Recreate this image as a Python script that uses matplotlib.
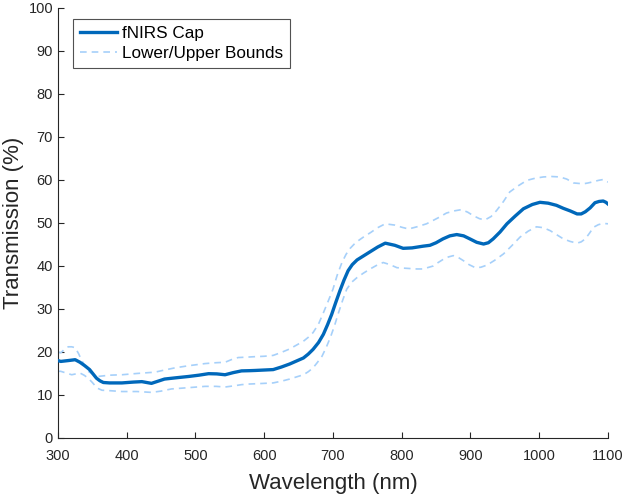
import matplotlib
matplotlib.use("Agg")
import matplotlib.pyplot as plt
import numpy as np

plt.rcParams['font.family'] = ['Liberation Sans', 'DejaVu Sans']

wl_main = [300, 304, 315, 325, 332, 339, 346, 351, 356, 361, 366, 375, 393, 410, 422, 436, 455, 472, 490, 505, 519, 531, 543, 555, 567, 579, 587, 600, 613, 625, 637, 647, 657, 664, 671, 679, 686, 692, 698, 704, 710, 716, 722, 728, 735, 744, 754, 765, 776, 790, 802, 815, 831, 841, 850, 860, 870, 880, 890, 899, 909, 919, 926, 933, 943, 953, 965, 977, 990, 1001, 1013, 1025, 1035, 1045, 1055, 1061, 1067, 1074, 1081, 1087, 1093, 1097, 1100]
t_main = [18.0, 17.8, 18.0, 18.2, 17.6, 16.8, 15.9, 14.9, 13.9, 13.3, 12.9, 12.8, 12.8, 13.0, 13.1, 12.7, 13.7, 14.0, 14.3, 14.6, 14.95, 14.9, 14.7, 15.2, 15.6, 15.65, 15.7, 15.8, 15.9, 16.5, 17.2, 17.9, 18.6, 19.5, 20.6, 22.2, 24.1, 26.3, 28.7, 31.5, 34.2, 36.7, 38.9, 40.3, 41.4, 42.3, 43.3, 44.4, 45.3, 44.8, 44.1, 44.2, 44.6, 44.8, 45.4, 46.3, 47.0, 47.3, 47.0, 46.3, 45.5, 45.1, 45.4, 46.3, 47.9, 49.8, 51.6, 53.3, 54.3, 54.8, 54.6, 54.1, 53.4, 52.8, 52.1, 52.1, 52.6, 53.5, 54.7, 55.0, 55.1, 54.8, 54.4]

wl_up = [300, 304, 310, 315, 320, 325, 330, 334, 339, 344, 351, 358, 375, 393, 415, 441, 455, 470, 490, 514, 530, 543, 552, 562, 575, 586, 600, 613, 625, 637, 647, 657, 664, 671, 679, 686, 693, 700, 706, 713, 719, 725, 731, 737, 745, 755, 765, 776, 790, 800, 810, 822, 836, 841, 853, 865, 876, 887, 896, 904, 913, 921, 930, 938, 948, 957, 970, 982, 994, 1006, 1018, 1030, 1040, 1050, 1064, 1071, 1079, 1086, 1093, 1100]
t_up = [20.0, 19.8, 20.7, 21.2, 21.2, 21.0, 19.6, 18.2, 16.8, 15.5, 14.8, 14.3, 14.6, 14.7, 15.0, 15.3, 15.8, 16.3, 16.8, 17.3, 17.5, 17.6, 18.2, 18.7, 18.8, 18.9, 19.0, 19.2, 19.9, 20.7, 21.6, 22.5, 23.4, 24.5, 26.5, 29.1, 31.8, 34.6, 37.8, 40.8, 42.7, 44.1, 45.1, 45.9, 46.8, 47.8, 48.9, 49.8, 49.5, 49.0, 48.6, 49.1, 49.8, 50.2, 51.2, 52.3, 52.8, 53.1, 52.5, 51.7, 51.0, 50.7, 51.5, 52.9, 55.0, 57.2, 58.7, 59.9, 60.4, 60.7, 60.8, 60.7, 60.2, 59.3, 59.1, 59.3, 59.6, 59.9, 60.1, 59.5]

wl_lo = [300, 304, 310, 320, 326, 332, 338, 344, 350, 357, 364, 375, 393, 415, 436, 450, 465, 490, 514, 530, 543, 555, 567, 579, 587, 600, 613, 625, 637, 647, 657, 664, 671, 677, 684, 690, 696, 702, 708, 714, 720, 727, 735, 744, 754, 763, 773, 783, 793, 802, 812, 822, 831, 846, 853, 861, 868, 875, 882, 890, 898, 907, 915, 924, 935, 948, 960, 972, 984, 996, 1006, 1016, 1025, 1035, 1045, 1055, 1061, 1067, 1073, 1079, 1086, 1093, 1100]
t_lo = [15.5, 15.5, 15.2, 14.7, 14.9, 15.1, 14.6, 13.9, 12.9, 11.6, 11.1, 11.0, 10.8, 10.8, 10.6, 10.9, 11.4, 11.7, 12.0, 12.0, 11.85, 12.1, 12.4, 12.55, 12.6, 12.7, 12.8, 13.2, 13.7, 14.2, 14.7, 15.4, 16.3, 17.5, 19.0, 21.0, 23.3, 26.0, 29.1, 32.0, 34.6, 36.2, 37.3, 38.3, 39.3, 40.1, 40.8, 40.3, 39.6, 39.5, 39.4, 39.3, 39.3, 40.0, 40.8, 41.6, 42.1, 42.4, 42.0, 41.2, 40.3, 39.6, 39.7, 40.2, 41.3, 42.8, 44.7, 46.7, 48.1, 49.1, 48.9, 48.2, 47.3, 46.3, 45.7, 45.3, 45.6, 46.3, 47.6, 49.0, 49.6, 49.9, 49.8]

fig = plt.figure(figsize=(6.22, 4.96), dpi=100)
ax = fig.add_axes([0.0932, 0.117, 0.8843, 0.867])

main_c = '#0068BA'
bound_c = '#A6D0FA'
ax.plot(wl_main, t_main, color=main_c, lw=2.4, label='fNIRS Cap', zorder=3, solid_joinstyle='round')
ax.plot(wl_up, t_up, color=bound_c, lw=1.2, ls=(0, (4, 3)), label='Lower/Upper Bounds', zorder=2)
ax.plot(wl_lo, t_lo, color=bound_c, lw=1.2, ls=(0, (4, 3)), zorder=2)

ax.set_xlim(300, 1100)
ax.set_ylim(0, 100)
ax.set_xticks(np.arange(300, 1101, 100))
ax.set_yticks(np.arange(0, 101, 10))
for s in ['top', 'right']:
    ax.spines[s].set_visible(False)
for s in ['left', 'bottom']:
    ax.spines[s].set_color('#262626')
    ax.spines[s].set_linewidth(0.8)
ax.tick_params(direction='in', length=4, labelsize=10.5, colors='#262626', width=0.8)
ax.tick_params(axis='x', pad=8)
ax.set_xlabel('Wavelength (nm)', fontsize=16, color='#262626', labelpad=7)
ax.set_ylabel('Transmission (%)', fontsize=16, color='#262626', labelpad=3)

leg = ax.legend(loc='upper left', bbox_to_anchor=(0.027, 0.974), fontsize=12.3, frameon=True,
                fancybox=False, edgecolor='#262626', handlelength=2.2, borderpad=0.4,
                labelspacing=0.28, handletextpad=0.3, borderaxespad=0)
leg.get_frame().set_linewidth(0.8)

fig.savefig('out.png', dpi=100)
